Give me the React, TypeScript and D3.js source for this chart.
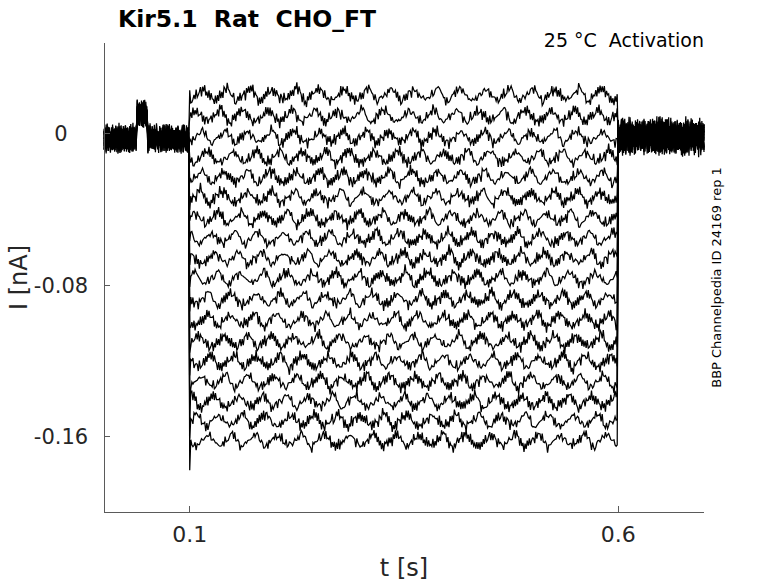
import React, { useMemo } from "react";
import * as d3 from "d3";

// ---- text ----
const titleText = "Kir5.1  Rat  CHO_FT";
const subtitleText = "25 °C  Activation";
const sideNote = "BBP Channelpedia ID 24169 rep 1";
const xLabel = "t [s]";
const yLabel = "I [nA]";

// ---- axes ----
const xDomain: [number, number] = [0, 0.7];
const yDomain: [number, number] = [-0.2, 0.048];
const xTicks = [0.1, 0.6];
const xTickLabels = ["0.1", "0.6"];
const yTicks = [0, -0.08, -0.16];
const yTickLabels = ["0", "-0.08", "-0.16"];

// ---- protocol (s) ----
const sampleStep = 0.00125;
const pulseStartIdx = 80; // 0.1 s
const pulseEndIdx = 480; // 0.6 s
const lastIdx = 560; // 0.7 s

// ---- sweep current levels during the pulse (nA) ----
const pulseLevels = [
  0.0207, 0.0095, -0.0016, -0.0122, -0.0228, -0.0334, -0.0445, -0.0551, -0.0657,
  -0.0763, -0.0874, -0.0985, -0.1097, -0.1203, -0.1309, -0.1415, -0.1515, -0.1621,
];
const baselinePre = -0.0024; // nA, before pulse
const baselinePost = -0.0013; // nA, after pulse
const artifactWindow = [0.038, 0.051]; // s, small upward step before the pulse
const artifactShift = 0.013; // nA
const onsetKick = 0.07; // fraction of level added on the first pulse sample

// ---- slow ripple seen on every sweep (units of 1e-3 nA) ----
const ripple = [
  0, 1, 2, 3, 3.5, 3.5, 3, 2, 1, 0, -1, -2, -3, -3.5, -3.5, -3, -2, -1, -0.5, 0,
  0.5, 1, 1.5, 2, 2, 2.5, 2, 1.5, 1, 0.5, 0, -0.5, -1, -1.5, -2, -2.5, -2.5, -2, -2, -1.5, -1, -0.5, 0, 0.5,
  1, 2, 3, 4, 4, 3.5, 2.5, 1, 0, -1.5, -2.5, -3.5, -4, -3.5, -3, -2, -1, -0.5, 0,
  0.5, 1, 2, 2.5, 3, 3, 2.5, 3, 2.5, 1.5, 0.5, -0.5, -1, -2, -2.5, -3, -3, -2.5, -3, -2.5, -2, -1.5, -1, -0.5, 0, 0.5,
  1, 1.5, 2.5, 3, 2.5, 2, 1.5, 1, 0.5, -0.5, -1, -1.5, -2, -2.5, -3, -3, -2.5, -1.5, -1, -0.5, 0, 0.5,
  1, 2, 3, 3.5, 3.5, 3, 2, 1, 0, -1, -2, -3, -3.5, -3, -2.5, -2, -1.5, -1, -0.5, 0, 0.5,
];
// ---- fast recording noise (units of 1e-3 nA) ----
const noiseA = [
  1.2, -0.8, 1.8, -1.5, 0.4, -2, 1, 0.3, -1.2, 2, -0.6, 1.4, -1.8, 0.7, -0.3, 1.6, -1.1, 0.2,
  -1.7, 1.3, -0.4, 0.9, -2.1, 1.5, -0.2, 0.6, -1.4, 1.9, -0.9, 0.1, -1.6, 1.1, -0.5, 1.7, -1.3,
  0.8, -0.1, 1.4, -1.9, 0.5, -0.7, 1.8, -1.0, 0.3, -1.5, 1.2, -0.6, 2.0, -1.2, 0.4, -0.8, 1.0, -1.6,
];
const noiseB = [
  0.9, -1.4, 0.2, 1.6, -0.7, -1.9, 1.1, 0.4, -1.0, 1.8, -0.3, -1.5, 0.6, 1.3, -2.0, 0.8, -0.2,
  1.5, -1.2, 0.3, -0.9, 1.9, -1.6, 0.5, 1.0, -0.4, -1.3, 1.7, -0.8, 0.2, -1.8, 1.2, -0.6, 0.7,
  -1.1, 1.4, -0.1, -1.7, 1.0, 0.6, -1.4,
];
const rippleOffsets = [0, 71, 23, 104, 45, 90, 8, 57, 121, 30, 82, 39, 112, 15, 66, 98, 50, 127];
const noiseAOffsets = [0, 17, 34, 8, 41, 25, 50, 12, 29, 46, 3, 37, 20, 44, 6, 31, 14, 48];
const noiseBOffsets = [5, 30, 11, 38, 22, 1, 33, 16, 27, 9, 40, 19, 35, 2, 24, 13, 36, 7];
const pulseNoiseGain = 0.9;
const preNoiseGain = 2.1;
const postNoiseGain = 2.7;

const W = 778;
const H = 583;
const M = { left: 104, right: 704, top: 43, bottom: 512 };
const font = "DejaVu Sans, Verdana, sans-serif";

export default function App() {
  const x = d3.scaleLinear().domain(xDomain).range([M.left, M.right]);
  const y = d3.scaleLinear().domain(yDomain).range([M.bottom, M.top]);

  const paths = useMemo(() => {
    const line = d3
      .line<[number, number]>()
      .x((d) => x(d[0]))
      .y((d) => y(d[1]));
    return pulseLevels.map((level, i) => {
      const pts: [number, number][] = [];
      for (let k = 0; k <= lastIdx; k++) {
        const t = k * sampleStep;
        const n =
          (noiseA[(k + noiseAOffsets[i]) % noiseA.length] +
            noiseB[(k + noiseBOffsets[i]) % noiseB.length]) *
          0.001;
        let v: number;
        if (k < pulseStartIdx) {
          v = baselinePre + n * preNoiseGain;
          if (t >= artifactWindow[0] && t <= artifactWindow[1]) v += artifactShift;
        } else if (k < pulseEndIdx) {
          const r = ripple[(k + rippleOffsets[i]) % ripple.length] * 0.001;
          v = level + r + n * pulseNoiseGain;
          if (k === pulseStartIdx) v += onsetKick * (level - baselinePre);
        } else {
          v = baselinePost + n * postNoiseGain;
        }
        pts.push([t, v]);
      }
      return line(pts) as string;
    });
  }, []);

  const axisColor = "#5a5a5a";
  const labelColor = "#262626";
  const tickLen = 6;
  const pre = { whiteSpace: "pre" as const };

  return (
    <svg
      width={W}
      height={H}
      style={{ position: "absolute", left: 0, top: 0, background: "#fff" }}
      fontFamily={font}
    >
      <rect x={0} y={0} width={W} height={H} fill="#fff" />
      {/* traces */}
      <g fill="none" stroke="#000" strokeWidth={1.25} strokeLinejoin="miter">
        {paths.map((d, i) => (
          <path key={i} d={d} />
        ))}
      </g>
      {/* axes */}
      <g stroke={axisColor} strokeWidth={1} fill="none" shapeRendering="crispEdges">
        <line x1={M.left} x2={M.left} y1={M.top} y2={M.bottom} />
        <line x1={M.left} x2={M.right} y1={M.bottom} y2={M.bottom} />
        {xTicks.map((t) => (
          <line key={"xt" + t} x1={x(t)} x2={x(t)} y1={M.bottom} y2={M.bottom - tickLen} />
        ))}
        {yTicks.map((t) => (
          <line key={"yt" + t} x1={M.left} x2={M.left + tickLen} y1={y(t)} y2={y(t)} />
        ))}
      </g>
      {/* tick labels */}
      <g fill={labelColor} fontSize={22}>
        {xTicks.map((t, i) => (
          <text key={"xl" + t} x={x(t)} y={542} textAnchor="middle">
            {xTickLabels[i]}
          </text>
        ))}
      </g>
      <g fill={labelColor} fontSize={21}>
        {yTicks.map((t, i) => (
          <text key={"yl" + t} x={61} y={y(t) + 7.5} textAnchor="middle">
            {yTickLabels[i]}
          </text>
        ))}
      </g>
      {/* axis labels */}
      <text x={(M.left + M.right) / 2} y={576} textAnchor="middle" fontSize={24} fill={labelColor} style={pre}>
        {xLabel}
      </text>
      <text
        transform={`translate(27,${(M.top + M.bottom) / 2}) rotate(-90)`}
        textAnchor="middle"
        fontSize={24}
        fill={labelColor}
        style={pre}
      >
        {yLabel}
      </text>
      {/* titles */}
      <text x={118} y={27} fontSize={23.5} fontWeight="bold" fill="#000" style={pre}>
        {titleText}
      </text>
      <text x={704} y={47} fontSize={19} textAnchor="end" fill="#000" style={pre}>
        {subtitleText}
      </text>
      <text
        transform={`translate(721,${(M.top + M.bottom) / 2}) rotate(-90)`}
        textAnchor="middle"
        fontSize={13}
        fill="#000"
        style={pre}
      >
        {sideNote}
      </text>
    </svg>
  );
}
